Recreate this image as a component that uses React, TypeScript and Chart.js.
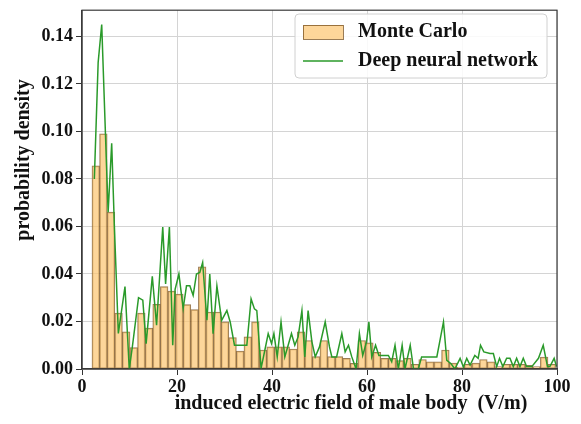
import React, { useEffect, useRef } from "react";
import { Chart, registerables } from "chart.js";

Chart.register(...registerables);

// ---------- data ----------
const binStart = 2.1;
const binWidth = 1.6;
// Monte Carlo histogram heights (probability density), one per bin
const monteCarlo = [
  0.0855, 0.099, 0.066, 0.0235, 0.0156, 0.009, 0.0235, 0.0172, 0.0272, 0.0347,
  0.0328, 0.0315, 0.0271, 0.025, 0.043, 0.024, 0.024, 0.0198, 0.0132, 0.0075,
  0.0135, 0.0198, 0.008, 0.0093, 0.0093, 0.0093, 0.0084, 0.0156, 0.012, 0.0052,
  0.012, 0.0052, 0.0052, 0.0045, 0.0024, 0.012, 0.011, 0.007, 0.0045, 0.0045,
  0.0035, 0.0045, 0.002, 0.004, 0.003, 0.003, 0.008, 0.0025, 0.0008, 0.002,
  0.0025, 0.004, 0.003, 0.001, 0.002, 0.002, 0.002, 0.0015, 0.001, 0.005,
  0.002,
];
// Deep neural network curve
const dnnX = [
  2.6, 3.4, 4.15, 5.5, 6.25, 6.8, 7.65, 9.05, 9.95, 10.6,
  11.9, 12.8, 13.5, 14.8, 15.7, 17.0, 17.6, 18.4, 19.1, 19.6,
  20.4, 21.3, 22.0, 22.7, 23.4, 24.1, 24.8, 25.4, 26.3, 26.9,
  27.6, 28.4, 29.4, 30.5, 31.2, 32.1, 34.7, 35.6, 36.3, 36.8,
  37.7, 38.5, 39.2, 39.9, 40.4, 41.1, 41.9, 42.7, 43.4, 44.1,
  44.8, 45.5, 46.3, 46.9, 47.6, 48.4, 49.1, 50.0, 51.2, 52.1,
  52.6, 53.6, 54.7, 55.4, 56.1, 56.8, 57.7, 58.4, 59.1, 59.9,
  60.4, 61.0, 61.8, 62.5, 64.5, 65.2, 65.9, 66.6, 67.4, 68.0,
  69.1, 69.8, 70.8, 71.5, 74.7, 76.1, 76.8, 77.7, 78.5, 79.6,
  80.3, 81.0, 81.7, 82.7, 83.4, 83.9, 84.6, 85.9, 86.6, 87.3,
  87.9, 88.6, 89.4, 90.1, 90.8, 91.5, 92.2, 92.9, 93.6, 94.7,
  96.1, 97.1, 98.0, 98.5, 99.4, 99.9,
];
const dnnY = [
  0.080, 0.129, 0.145, 0.066, 0.095, 0.061, 0.015, 0.0347, 0.000, 0.0093,
  0.030, 0.029, 0.0107, 0.039, 0.0184, 0.0597, 0.0358, 0.0597, 0.010, 0.0335,
  0.040, 0.0255, 0.035, 0.035, 0.031, 0.040, 0.0406, 0.0448, 0.0205, 0.040,
  0.0149, 0.035, 0.0205, 0.0246, 0.0198, 0.010, 0.010, 0.0295, 0.0253, 0.0246,
  0.0003, 0.008, 0.0149, 0.0107, 0.0149, 0.0051, 0.0198, 0.0051, 0.010, 0.0149,
  0.010, 0.0135, 0.0246, 0.0051, 0.0246, 0.0114, 0.0051, 0.0093, 0.0198, 0.0093,
  0.0051, 0.0051, 0.0149, 0.0072, 0.010, 0.0051, 0.000, 0.0149, 0.0057, 0.0114,
  0.0198, 0.0051, 0.010, 0.0057, 0.0057, 0.003, 0.010, 0.000, 0.010, 0.000,
  0.010, 0.000, 0.000, 0.0051, 0.0051, 0.0198, 0.0036, 0.0022, 0.000, 0.0045,
  0.0008, 0.0045, 0.0017, 0.0057, 0.0045, 0.010, 0.0072, 0.0065, 0.0065, 0.001,
  0.0045, 0.001, 0.0045, 0.0045, 0.001, 0.0045, 0.001, 0.0045, 0.001, 0.001,
  0.0045, 0.010, 0.001, 0.001, 0.0045, 0.001,
];
const xMin = 0;
const xMax = 100;
const xStep = 20;
const yMin = 0;
const yMax = 0.151;
const yStep = 0.02;
const seriesNames = ["Monte Carlo", "Deep neural network"];
const xTitle = "induced electric field of male body  (V/m)";
const yTitle = "probability density";

// ---------- styles ----------
const FONT = "'Liberation Serif', 'Times New Roman', serif";
const BAR_FILL = "rgba(252,198,115,0.72)";
const BAR_EDGE = "rgba(120,80,30,0.75)";
const LINE_COLOR = "#2a9a2a";
const TEXT = "#111";

const overlayPlugin = {
  id: "overlay",
  afterDraw(chart: any) {
    const { ctx, chartArea: a } = chart;
    ctx.save();
    // frame
    ctx.strokeStyle = "#3a3a3a";
    ctx.lineWidth = 1.2;
    ctx.strokeRect(a.left, a.top, a.right - a.left, a.bottom - a.top);

    // axis titles
    ctx.fillStyle = TEXT;
    ctx.font = `bold 20px ${FONT}`;
    ctx.textAlign = "center";
    ctx.textBaseline = "middle";
    ctx.fillText(xTitle, 351, 404);
    ctx.save();
    ctx.translate(24, 160);
    ctx.rotate(-Math.PI / 2);
    ctx.fillText(yTitle, 0, 0);
    ctx.restore();

    // legend
    const lx = 295, ly = 14, lw = 252, lh = 64;
    ctx.beginPath();
    if (ctx.roundRect) ctx.roundRect(lx, ly, lw, lh, 4);
    else ctx.rect(lx, ly, lw, lh);
    ctx.fillStyle = "rgba(255,255,255,0.85)";
    ctx.fill();
    ctx.strokeStyle = "#d0d0d0";
    ctx.lineWidth = 1;
    ctx.stroke();

    ctx.fillStyle = BAR_FILL;
    ctx.fillRect(303, 25, 40, 14);
    ctx.strokeStyle = BAR_EDGE;
    ctx.strokeRect(303.5, 25.5, 40, 14);

    ctx.strokeStyle = LINE_COLOR;
    ctx.lineWidth = 1.6;
    ctx.beginPath();
    ctx.moveTo(303, 61);
    ctx.lineTo(343, 61);
    ctx.stroke();

    ctx.fillStyle = TEXT;
    ctx.font = `bold 20px ${FONT}`;
    ctx.textAlign = "left";
    ctx.textBaseline = "middle";
    ctx.fillText(seriesNames[0], 358, 32);
    ctx.fillText(seriesNames[1], 358, 61);
    ctx.restore();
  },
};

export default function App() {
  const ref = useRef<HTMLCanvasElement | null>(null);

  useEffect(() => {
    document.body.style.margin = "0";
    const canvas = ref.current;
    if (!canvas) return;
    const barData = monteCarlo.map((v, i) => ({ x: binStart + binWidth * (i + 0.5), y: v }));
    const lineData = dnnX.map((x, i) => ({ x, y: dnnY[i] }));

    const chart = new Chart(canvas, {
      type: "bar",
      data: {
        datasets: [
          {
            type: "line",
            label: seriesNames[1],
            data: lineData,
            borderColor: LINE_COLOR,
            borderWidth: 1.5,
            pointRadius: 0,
            tension: 0,
            fill: false,
            order: 0,
          } as any,
          {
            type: "bar",
            label: seriesNames[0],
            data: barData,
            backgroundColor: BAR_FILL,
            borderColor: BAR_EDGE,
            borderWidth: 1,
            borderSkipped: false,
            barPercentage: 1,
            categoryPercentage: 1,
            order: 1,
          } as any,
        ],
      },
      options: {
        responsive: false,
        animation: false,
        layout: { padding: { left: 0, right: 24, top: 8, bottom: 0 } },
        plugins: {
          legend: { display: false },
          tooltip: { enabled: false },
          title: { display: false },
        },
        scales: {
          x: {
            type: "linear",
            min: xMin,
            max: xMax,
            offset: false,
            grid: {
              color: "#d4d4d4",
              lineWidth: 1,
              offset: false,
              tickLength: 6,
              tickColor: "#333",
            },
            border: { color: "#3a3a3a", width: 1.2 },
            ticks: {
              stepSize: xStep,
              color: TEXT,
              font: { family: FONT, size: 18, weight: "bold" },
              padding: 2,
              maxRotation: 0,
            },
            afterFit(scale: any) {
              scale.height = 55;
            },
          },
          y: {
            type: "linear",
            min: yMin,
            max: yMax,
            grid: {
              color: "#d4d4d4",
              lineWidth: 1,
              tickLength: 6,
              tickColor: "#333",
            },
            border: { color: "#3a3a3a", width: 1.2 },
            ticks: {
              stepSize: yStep,
              includeBounds: false,
              color: TEXT,
              font: { family: FONT, size: 18, weight: "bold", lineHeight: 0.8 },
              padding: 3,
              callback: (v: any) => Number(v).toFixed(2),
            },
            afterFit(scale: any) {
              scale.width = 82;
            },
          },
        },
      } as any,
      plugins: [overlayPlugin],
    });
    return () => chart.destroy();
  }, []);

  return (
    <div style={{ width: 581, height: 424 }}>
      <canvas ref={ref} width={581} height={424} style={{ display: "block" }} />
    </div>
  );
}
